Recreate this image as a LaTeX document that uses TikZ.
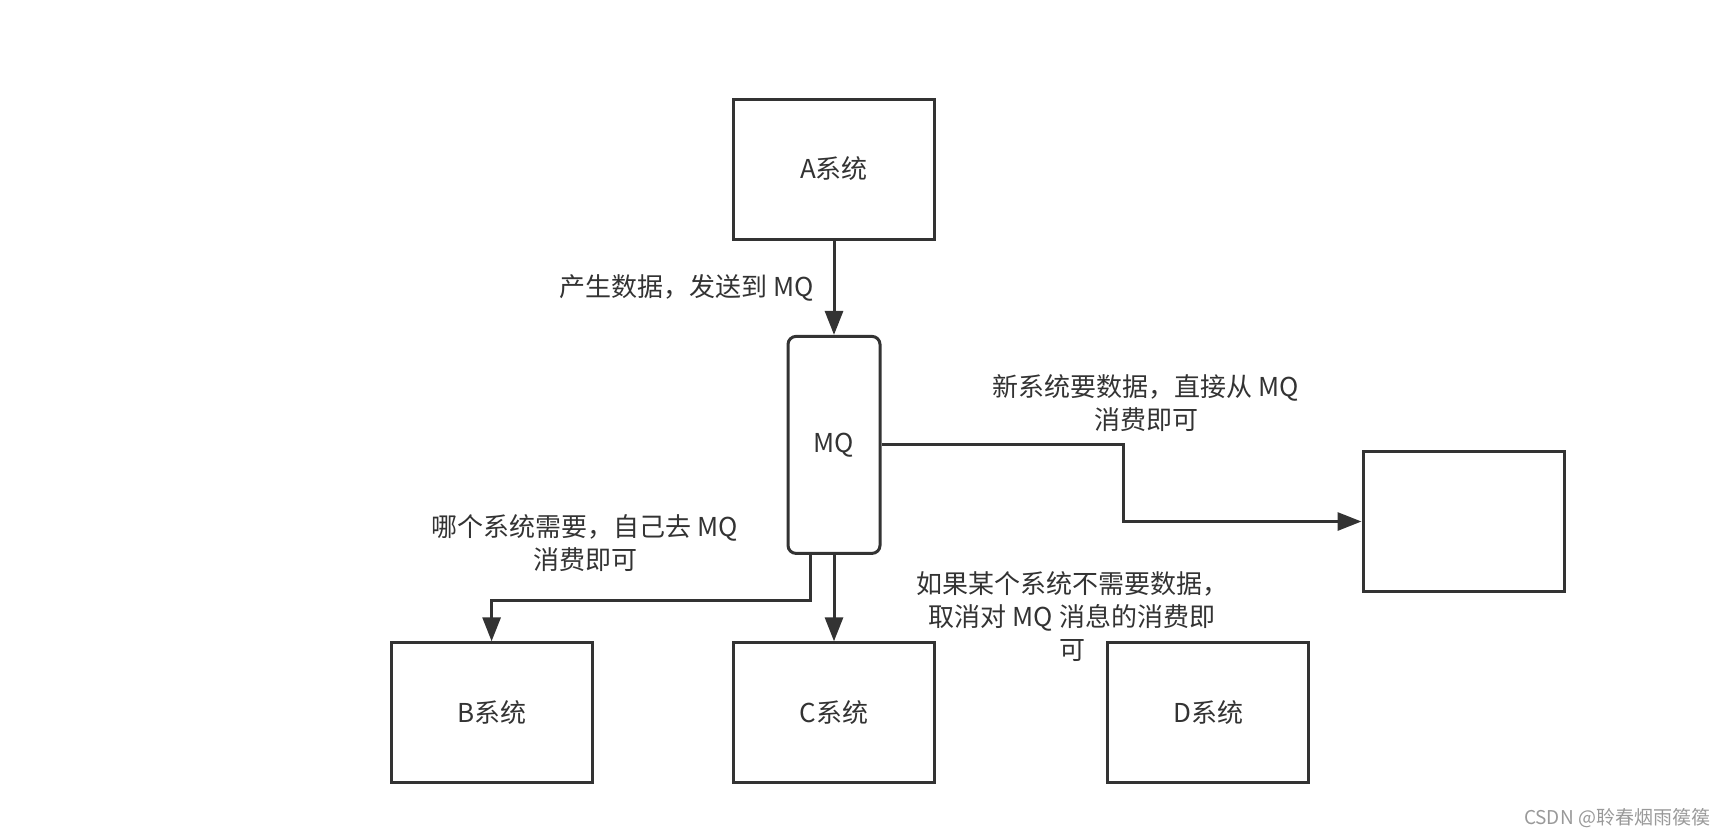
\documentclass[tikz,border=0pt]{standalone}
\usepackage{fontspec}
\setmainfont{Noto Sans CJK SC}
\usepackage{tikz}
\usetikzlibrary{positioning, arrows.meta}
\definecolor{linegray}{HTML}{333333}
\definecolor{markgray}{HTML}{999999}

\begin{document}
\begin{tikzpicture}[x=1pt, y=1pt, line width=1.5pt, color=linegray,
sysbox/.style={rectangle, draw, minimum width=100.5pt, minimum height=70pt},
mqbox/.style={rectangle, draw, rounded corners=4pt, minimum width=46pt, minimum height=108.5pt},
flow/.style={-{Triangle[length=12pt, width=9pt]}},
note/.style={align=center, inner sep=0pt}]
\tikzstyle{every node}=[font=\fontsize{13}{16.5}\selectfont]
\useasboundingbox (0,0) rectangle (864,-418);
\node[sysbox] (A) at (417,-84.5) {A系统};
\node[mqbox] (MQ) [below=47.2pt of A] {MQ};
\node[sysbox] (C) [below=43.2pt of MQ] {C系统};
\node[sysbox] (B) [left=69.2pt of C] {B系统};
\node[sysbox] (D) [right=85.2pt of C] {D系统};
\node[sysbox] (N) at (731.75,-260.75) {};
\node[note] (lblN) at (573,-201.5) {新系统要数据，直接从 MQ\\消费即可};
\node[note] (lblB) at (292.5,-271.75) {哪个系统需要，自己去 MQ\\消费即可};
\node[note] (lblD) at (536,-308.5) {如果某个系统不需要数据，\\取消对 MQ 消息的消费即\\可};
\node[font=\fontsize{9.5}{11}\selectfont, text=markgray] (mark) at (808.5,-409) {CSDN @聆春烟雨篌篌};
\draw[flow] (A) -- node[midway, left=6pt] {产生数据，发送到 MQ} (MQ);
\draw[flow] (MQ) -- (C);
\draw[flow] ([xshift=-12pt]MQ.south) -- ++(0,-23) -| (B.north);
\draw[flow] (MQ.east) -- ++(121,0) |- (N.west);
\end{tikzpicture}
\end{document}
